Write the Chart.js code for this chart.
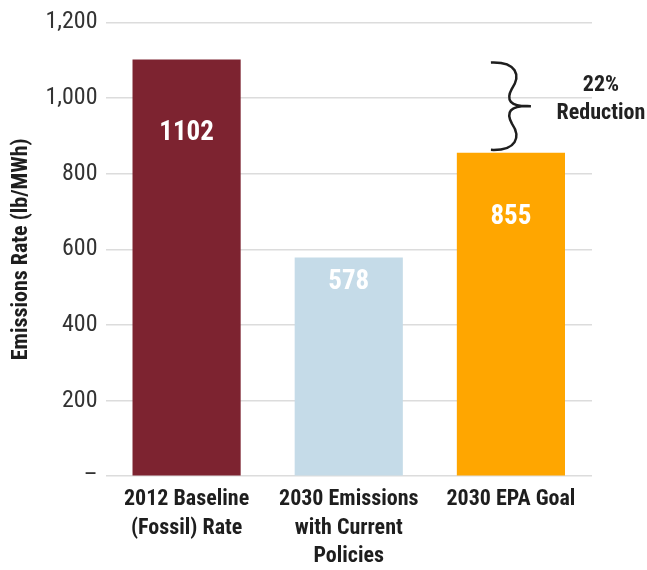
<!DOCTYPE html>
<html>
<head>
<meta charset="utf-8">
<script src="https://cdn.jsdelivr.net/npm/chart.js@4"></script>
<style>
  html, body { margin: 0; padding: 0; background: #fff; }
  #wrap { width: 647px; height: 570px; }
</style>
</head>
<body>
<div id="wrap"><canvas id="emChart"></canvas></div>
<script>
// --- Data ---
const categories = [
    ['2012 Baseline', '(Fossil) Rate'],
    ['2030 Emissions', 'with Current', 'Policies'],
    ['2030 EPA Goal']
];
const rates = [1102, 578, 855];
const barColors = ['#7D2330', '#C5DBE8', '#FFA600'];
const yTicks = [0, 200, 400, 600, 800, 1000, 1200];
const braceText = ['22%', 'Reduction'];

const FONT = '"Roboto Condensed", "Open Sans", sans-serif';

// value labels inside the bars (offset below bar top, px)
const labelDrop = [74, 25, 64];

const barLabels = {
    id: 'barLabels',
    afterDatasetsDraw(chart) {
        const c = chart.ctx;
        const meta = chart.getDatasetMeta(0);
        c.save();
        c.fillStyle = '#fff';
        c.font = 'bold 27px ' + FONT;
        c.textAlign = 'center';
        c.textBaseline = 'middle';
        meta.data.forEach((bar, i) => {
            c.fillText(String(rates[i]), bar.x, bar.y + labelDrop[i]);
        });
        c.restore();
    }
};

// curly brace between baseline and goal
const brace = {
    id: 'brace',
    afterDraw(chart) {
        const c = chart.ctx;
        const y = chart.scales.y, x = chart.scales.x;
        const top = y.getPixelForValue(rates[0]) + 3;
        const bot = y.getPixelForValue(rates[2]) - 3;
        const mid = (top + bot) / 2;
        const h = (bot - top) / 2;
        const x0 = x.getPixelForValue(2) - 20;
        const w = 40;
        c.save();
        c.strokeStyle = '#1e1e1e';
        c.lineWidth = 2.5;
        c.beginPath();
        c.moveTo(x0, top);
        c.bezierCurveTo(x0 + 26, top - 1, x0 + 30, top + h * 0.3, x0 + 21, top + h * 0.6);
        c.bezierCurveTo(x0 + 15, top + h * 0.85, x0 + 18, mid + 1, x0 + w, mid);
        c.moveTo(x0, bot);
        c.bezierCurveTo(x0 + 26, bot + 1, x0 + 30, bot - h * 0.3, x0 + 21, bot - h * 0.6);
        c.bezierCurveTo(x0 + 15, bot - h * 0.85, x0 + 18, mid - 1, x0 + w, mid);
        c.stroke();
        c.fillStyle = '#222';
        c.font = 'bold 22px ' + FONT;
        c.textAlign = 'center';
        c.textBaseline = 'middle';
        c.fillText(braceText[0], x0 + 110, mid - 21);
        c.fillText(braceText[1], x0 + 110, mid + 7);
        c.restore();
    }
};

const ctx = document.getElementById('emChart').getContext('2d');
new Chart(ctx, {
    type: 'bar',
    data: {
        labels: categories,
        datasets: [{
            data: rates,
            backgroundColor: barColors,
            borderWidth: 0,
            categoryPercentage: 1,
            barPercentage: 0.667
        }]
    },
    options: {
        responsive: true,
        maintainAspectRatio: false,
        animation: false,
        layout: { padding: { top: 0, right: 55, left: 0, bottom: -10 } },
        plugins: {
            legend: { display: false },
            tooltip: { enabled: false }
        },
        scales: {
            y: {
                min: 0,
                max: 1200,
                afterBuildTicks(axis) { axis.ticks = yTicks.map(v => ({ value: v })); },
                border: { display: false },
                grid: { color: '#dcdcdc', lineWidth: 1.5, drawTicks: false },
                ticks: {
                    padding: 8,
                    color: '#333',
                    font: { family: FONT, size: 24 },
                    callback: v => v === 0 ? '–' : v.toLocaleString('en-US')
                },
                title: {
                    display: true,
                    text: 'Emissions Rate (lb/MWh)',
                    color: '#1e1e1e',
                    font: { family: FONT, size: 22, weight: 'bold' },
                    padding: { top: 8, bottom: 3 }
                }
            },
            x: {
                border: { display: false },
                grid: { display: false, drawTicks: false },
                ticks: {
                    padding: 9,
                    maxRotation: 0,
                    autoSkip: false,
                    color: '#1e1e1e',
                    font: { family: FONT, size: 22, weight: 'bold', lineHeight: 1.3 }
                }
            }
        }
    },
    plugins: [barLabels, brace]
});
</script>
</body>
</html>
